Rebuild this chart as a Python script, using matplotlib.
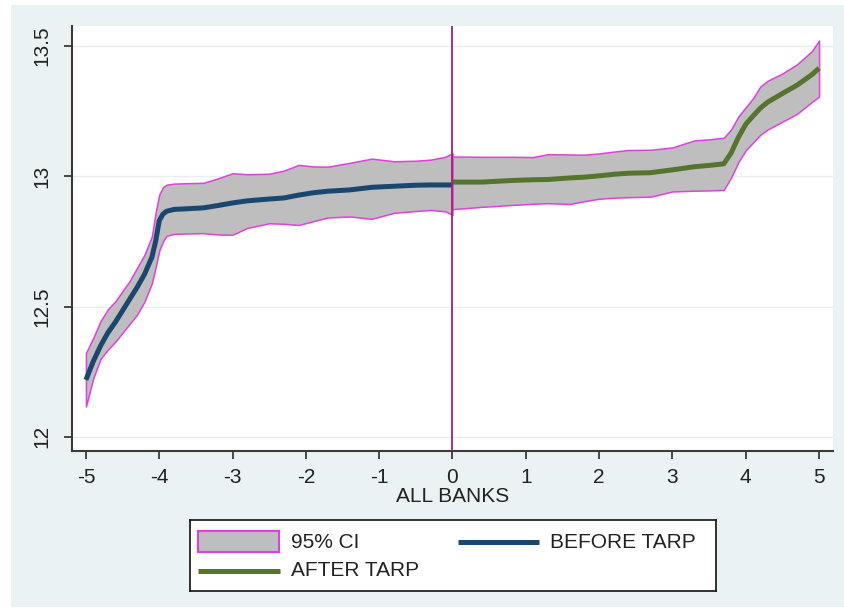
import matplotlib
matplotlib.use("Agg")
import matplotlib.pyplot as plt
from matplotlib.patches import Rectangle
from matplotlib.lines import Line2D

# ---- data -------------------------------------------------------------
x_before = [-5.0, -4.9, -4.8, -4.7, -4.6, -4.5, -4.4, -4.3, -4.2, -4.1, -4.05,
            -4.0, -3.95, -3.9, -3.8, -3.6, -3.4, -3.2, -3.0, -2.8, -2.5, -2.3,
            -2.1, -1.9, -1.7, -1.4, -1.1, -0.8, -0.5, -0.3, -0.1, 0.0]
mean_before = [12.219, 12.29, 12.35, 12.40, 12.44, 12.485, 12.53, 12.575, 12.625,
               12.69, 12.75, 12.83, 12.855, 12.866, 12.873, 12.876, 12.879, 12.888,
               12.898, 12.906, 12.913, 12.917, 12.928, 12.937, 12.943, 12.948,
               12.958, 12.962, 12.966, 12.967, 12.967, 12.967]
hi_before = [12.322, 12.38, 12.445, 12.49, 12.52, 12.56, 12.60, 12.65, 12.70,
             12.77, 12.86, 12.93, 12.958, 12.968, 12.972, 12.974, 12.975, 12.992,
             13.012, 13.008, 13.010, 13.022, 13.044, 13.038, 13.037, 13.052,
             13.068, 13.058, 13.060, 13.064, 13.075, 13.089]
lo_before = [12.117, 12.225, 12.30, 12.335, 12.365, 12.40, 12.435, 12.47, 12.52,
             12.59, 12.65, 12.715, 12.75, 12.772, 12.779, 12.781, 12.782, 12.777,
             12.776, 12.802, 12.820, 12.818, 12.813, 12.828, 12.842, 12.846,
             12.837, 12.860, 12.867, 12.871, 12.866, 12.852]

x_after = [0.0, 0.4, 0.8, 1.1, 1.3, 1.6, 1.8, 2.0, 2.2, 2.4, 2.7, 3.0, 3.3, 3.5,
           3.7, 3.8, 3.9, 4.0, 4.1, 4.2, 4.3, 4.5, 4.7, 4.9, 5.0]
mean_after = [12.978, 12.978, 12.984, 12.987, 12.988, 12.994, 12.997, 13.002,
              13.008, 13.012, 13.014, 13.025, 13.037, 13.042, 13.048, 13.09,
              13.15, 13.20, 13.232, 13.262, 13.285, 13.318, 13.35, 13.39, 13.415]
hi_after = [13.076, 13.075, 13.075, 13.074, 13.085, 13.084, 13.083, 13.088,
            13.095, 13.101, 13.102, 13.111, 13.138, 13.142, 13.148, 13.18,
            13.23, 13.265, 13.30, 13.345, 13.367, 13.395, 13.43, 13.48, 13.521]
lo_after = [12.874, 12.883, 12.890, 12.895, 12.897, 12.894, 12.905, 12.914,
            12.918, 12.920, 12.922, 12.942, 12.945, 12.946, 12.948, 12.995,
            13.055, 13.10, 13.13, 13.16, 13.18, 13.21, 13.24, 13.285, 13.306]

x_ticks = [-5, -4, -3, -2, -1, 0, 1, 2, 3, 4, 5]
y_ticks = [12, 12.5, 13, 13.5]
y_tick_labels = ["12", "12.5", "13", "13.5"]
x_label = "ALL BANKS"
legend_labels = ["95% CI", "BEFORE TARP", "AFTER TARP"]

# ---- style ------------------------------------------------------------
FONT = "Liberation Sans"
FS = 15
BG = "#eaf2f3"
CI_FILL = "#bebebe"
CI_EDGE = "#e23fe0"
NAVY = "#1a476f"
GREEN = "#55752f"
VLINE = "#a0206e"
AXIS = "#3a3a3a"

W, H = 845, 616
fig = plt.figure(figsize=(W / 100, H / 100), dpi=100, facecolor="white")


def px_rect(x0, y0, x1, y1):
    """Figure-fraction rectangle from pixel coordinates (origin top-left)."""
    return [x0 / W, 1 - y1 / H, (x1 - x0) / W, (y1 - y0) / H]


# light graph region behind everything
fig.patches.append(Rectangle((11 / W, 1 - 607 / H), (W - 11) / W, (607 - 5) / H,
                             transform=fig.transFigure, facecolor=BG,
                             edgecolor="none", zorder=-10))

ax = fig.add_axes(px_rect(72, 26, 833, 451))
ax.set_facecolor("white")

ax.fill_between(x_before, lo_before, hi_before, facecolor=CI_FILL,
                edgecolor=CI_EDGE, linewidth=1.1, zorder=2)
ax.fill_between(x_after, lo_after, hi_after, facecolor=CI_FILL,
                edgecolor=CI_EDGE, linewidth=1.1, zorder=2)
ax.plot(x_before, mean_before, color=NAVY, lw=3.6, zorder=3,
        solid_capstyle="butt")
ax.plot(x_after, mean_after, color=GREEN, lw=3.6, zorder=3,
        solid_capstyle="butt")
ax.axvline(0, color=VLINE, lw=1.3, zorder=4)

ax.set_xlim(-5.19, 5.19)
ax.set_ylim(11.946, 13.577)
ax.set_xticks(x_ticks)
ax.set_xticklabels([str(t) for t in x_ticks], fontsize=FS, family=FONT,
                   color="#222222")
ax.set_yticks(y_ticks)
ax.set_yticklabels(y_tick_labels, fontsize=FS, family=FONT, rotation=90,
                   va="center", color="#222222")
ax.grid(axis="y", color="#e9eded", lw=1.0, zorder=1)
ax.set_axisbelow(True)

for s in ("top", "right"):
    ax.spines[s].set_visible(False)
for s in ("left", "bottom"):
    ax.spines[s].set_color(AXIS)
    ax.spines[s].set_linewidth(1.5)
ax.tick_params(axis="x", direction="out", length=6, width=1.3, color=AXIS,
               pad=6)
ax.tick_params(axis="y", direction="out", length=6, width=1.3, color=AXIS,
               pad=9)
ax.set_xlabel(x_label, fontsize=FS, family=FONT, color="#222222", labelpad=0)

# ---- legend box -------------------------------------------------------
lax = fig.add_axes(px_rect(190, 520, 716, 591))
lax.set_xlim(0, 526)
lax.set_ylim(71, 0)
lax.set_xticks([])
lax.set_yticks([])
lax.set_facecolor("white")
for s in lax.spines.values():
    s.set_color("#111111")
    s.set_linewidth(1.2)

lax.add_patch(Rectangle((8, 11), 81, 21, facecolor=CI_FILL, edgecolor=CI_EDGE,
                        linewidth=1.5))
lax.text(101, 22, legend_labels[0], fontsize=FS, family=FONT, va="center",
         ha="left", color="#222222")
lax.add_line(Line2D([268, 349], [22, 22], color=NAVY, lw=3.6,
                    solid_capstyle="butt"))
lax.text(360, 22, legend_labels[1], fontsize=FS, family=FONT, va="center",
         ha="left", color="#222222")
lax.add_line(Line2D([8, 90], [51, 51], color=GREEN, lw=3.6,
                    solid_capstyle="butt"))
lax.text(101, 51, legend_labels[2], fontsize=FS, family=FONT, va="center",
         ha="left", color="#222222")

fig.savefig("out.png", dpi=100, facecolor=fig.get_facecolor())
